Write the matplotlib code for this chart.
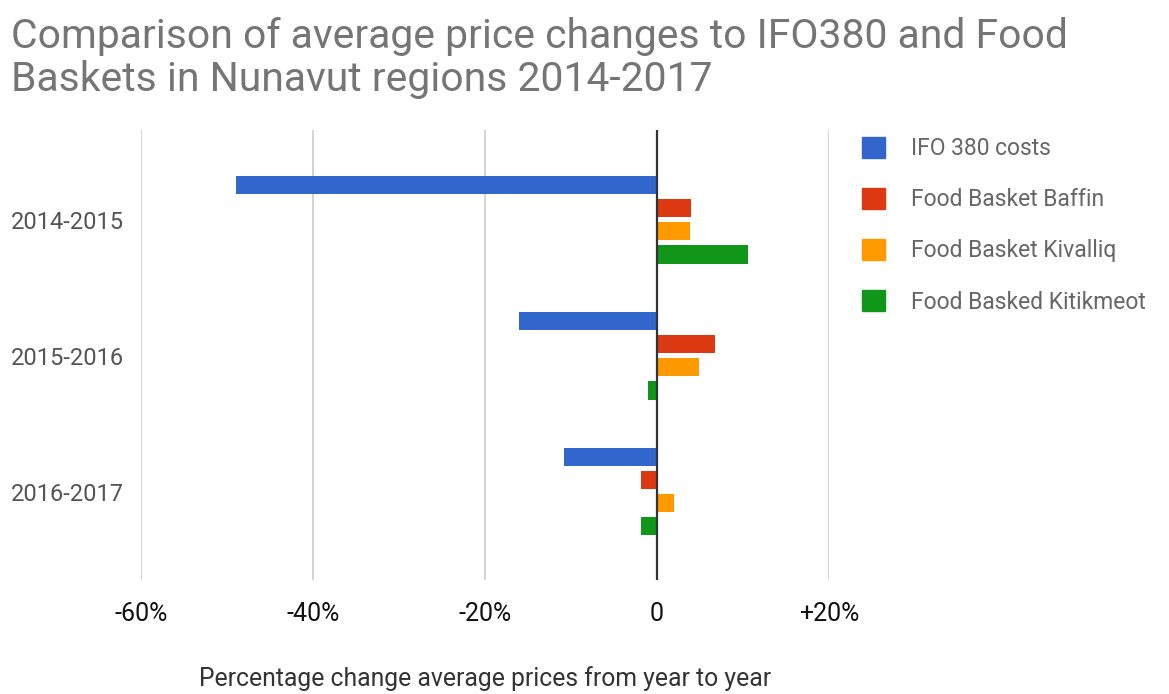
import numpy as np
import matplotlib
matplotlib.use("Agg")
import matplotlib.pyplot as plt
from matplotlib.patches import Patch

plt.rcParams["font.family"] = ["Roboto", "DejaVu Sans"]

periods = ["2014-2015", "2015-2016", "2016-2017"]
series_names = ["IFO 380 costs", "Food Basket Baffin", "Food Basket Kivalliq", "Food Basked Kitikmeot"]
ifo380 = [-49.0, -16.0, -10.8]
baffin = [4.0, 6.8, -1.9]
kivalliq = [3.9, 4.9, 2.0]
kitikmeot = [10.6, -1.0, -1.9]
colors = ["#3366cc", "#dc3912", "#ff9900", "#109618"]
xticks = [-60, -40, -20, 0, 20]
xtick_labels = ["-60%", "-40%", "-20%", "0", "+20%"]


def main():
    fig = plt.figure(figsize=(11.69, 6.94), dpi=100)
    ax = fig.add_axes([0.1206, 0.1643, 0.5885, 0.6484])

    y = np.arange(len(periods))
    step = 0.17
    h = 0.135
    values = [ifo380, baffin, kivalliq, kitikmeot]
    for i, (vals, c) in enumerate(zip(values, colors)):
        ax.barh(y + (i - 1.5) * step, vals, height=h, color=c, zorder=3)

    ax.set_xlim(-60, 20)
    ax.set_ylim(2.65, -0.66)
    ax.set_xticks(xticks)
    ax.set_xticklabels(xtick_labels, fontsize=18, color="#111111")
    ax.set_yticks(y)
    ax.set_yticklabels(periods, fontsize=17, color="#555555")
    ax.tick_params(length=0)
    ax.tick_params(axis="x", pad=16)
    ax.tick_params(axis="y", pad=12)
    for s in ax.spines.values():
        s.set_visible(False)
    for t in xticks:
        if t == 0:
            ax.axvline(t, color="#333333", lw=1.6, zorder=4)
        else:
            ax.axvline(t, color="#cccccc", lw=1.2, zorder=1)

    ax.set_xlabel("Percentage change average prices from year to year",
                  fontsize=17.8, color="#333333", labelpad=29)

    fig.text(0.009, 0.975, "Comparison of average price changes to IFO380 and Food\n"
             "Baskets in Nunavut regions 2014-2017",
             fontsize=29.4, color="#757575", va="top", ha="left", linespacing=1.12)

    handles = [Patch(facecolor=c, edgecolor=c) for c in colors]
    fig.legend(handles, series_names, loc="upper left",
               bbox_to_anchor=(0.7195, 0.832), frameon=False,
               fontsize=16.5, labelcolor="#666666",
               handlelength=1.0, handleheight=1.0, handletextpad=1.15,
               labelspacing=1.22)

    fig.savefig("out.png", dpi=100)
    plt.close(fig)


if __name__ == "__main__":
    main()
